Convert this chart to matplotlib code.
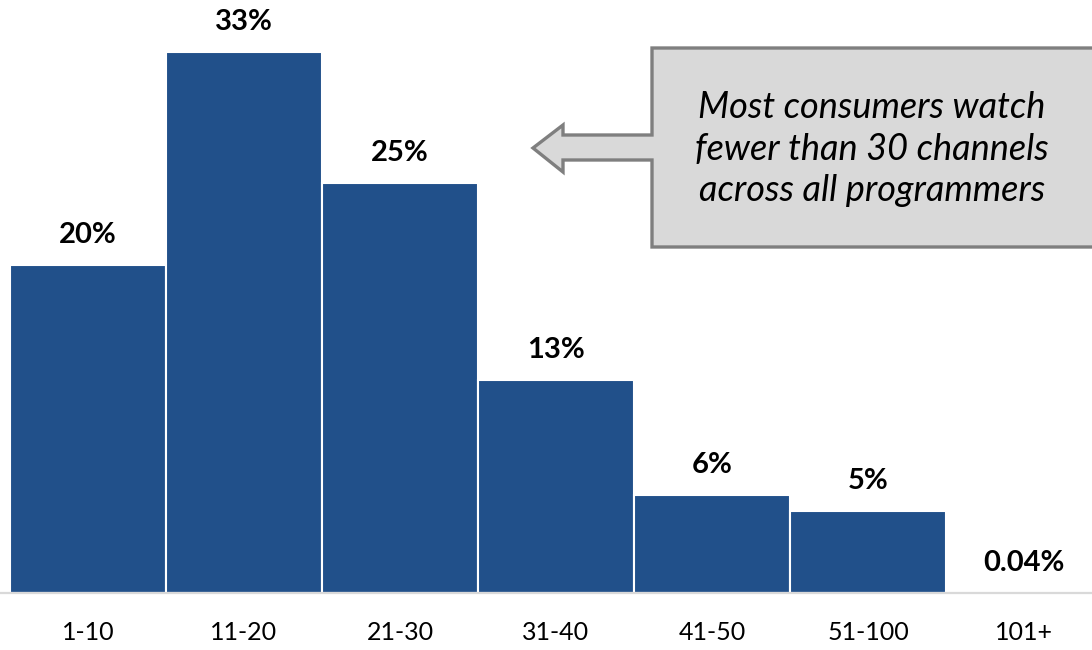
import matplotlib
matplotlib.use("Agg")
import matplotlib.pyplot as plt
from matplotlib.patches import Polygon

plt.rcParams["font.family"] = ["Lato", "DejaVu Sans"]

# channels watched, share of consumers
categories = ["1-10", "11-20", "21-30", "31-40", "41-50", "51-100", "101+"]
shares = [20, 33, 25, 13, 6, 5, 0.04]
labels = ["20%", "33%", "25%", "13%", "6%", "5%", "0.04%"]
callout = "Most consumers watch\nfewer than 30 channels\nacross all programmers"

W, H = 1092, 650
fig = plt.figure(figsize=(W / 100, H / 100), dpi=100)
ax = fig.add_axes([0, 57 / H, 1, 593 / H])

x = range(len(categories))
ax.bar(x, shares, width=1.0, color="#21508A", edgecolor="white", linewidth=1.5)

for xi, v, lab in zip(x, shares, labels):
    ax.annotate(lab, (xi, v), xytext=(0, 12), textcoords="offset points",
                ha="center", va="bottom", fontsize=21, fontweight="bold")

ax.set_xlim(-0.564, 6.436)
ax.set_ylim(0, 36.16)
ax.set_xticks(list(x))
ax.set_xticklabels(categories, fontsize=18)
ax.tick_params(axis="x", length=0, pad=20)
ax.set_yticks([])
for side in ["top", "right", "left"]:
    ax.spines[side].set_visible(False)
ax.spines["bottom"].set_color("#D9D9D9")
ax.spines["bottom"].set_linewidth(1.6)

# callout box with left-pointing arrow, outlined in pixels from the top-left
shape_px = [(652, 48), (1100, 48), (1100, 247), (652, 247), (652, 160),
            (563, 160), (563, 172), (533, 148), (563, 125), (563, 135),
            (652, 135)]
shape = [(px / W, 1 - py / H) for px, py in shape_px]
fig.patches.append(Polygon(shape, closed=True, transform=fig.transFigure,
                           facecolor="#D9D9D9", edgecolor="#7F7F7F",
                           linewidth=2.4, joinstyle="miter"))
fig.text(872 / W, 1 - 149 / H, callout, ha="center", va="center",
         fontsize=26, style="italic", linespacing=1.3)

fig.savefig("out.png", dpi=100)
